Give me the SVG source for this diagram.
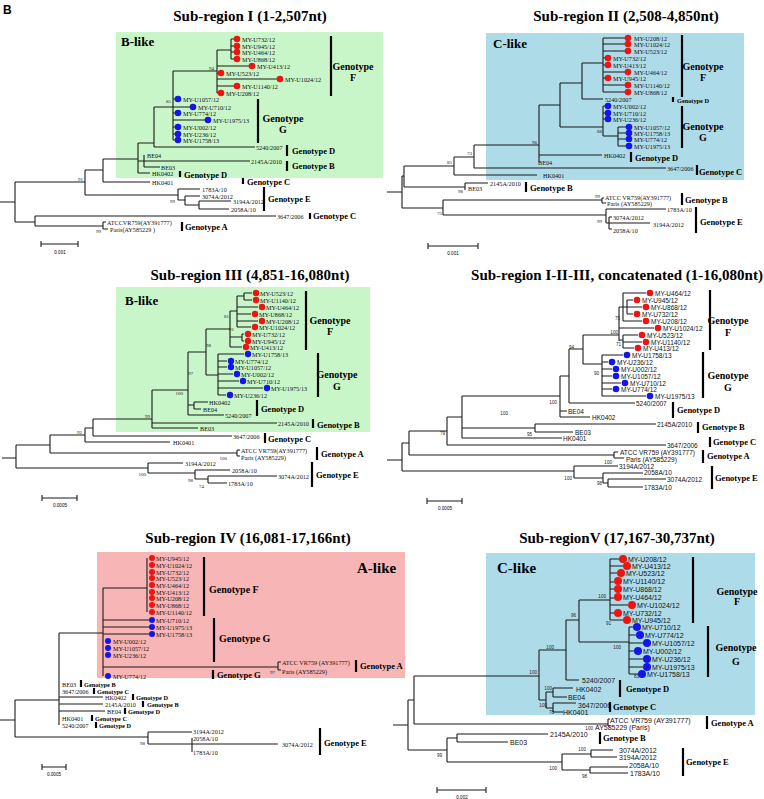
<svg xmlns="http://www.w3.org/2000/svg" width="764" height="799" viewBox="0 0 764 799">
<style>
.ln{fill:none;stroke:#1a1a1a;stroke-width:1.1}
.bar{stroke:#000;stroke-width:2.2}
.s{font-family:"Liberation Serif",serif;font-size:6.2px;dominant-baseline:central;fill:#111}
.a{font-family:"Liberation Sans",sans-serif;font-size:6.5px;dominant-baseline:central;fill:#111}
.a7{font-family:"Liberation Sans",sans-serif;font-size:7px;dominant-baseline:central;fill:#111}
.g{font-family:"Liberation Serif",serif;font-weight:bold;font-size:8.5px;dominant-baseline:central}
.gs{font-family:"Liberation Serif",serif;font-weight:bold;font-size:6.3px;dominant-baseline:central}
.gc{font-family:"Liberation Serif",serif;font-weight:bold;font-size:10px;dominant-baseline:central;text-anchor:middle}
.gl{font-family:"Liberation Serif",serif;font-weight:bold;font-size:10px;dominant-baseline:central}
.n{font-family:"Liberation Serif",serif;font-size:5px;text-anchor:end;dominant-baseline:central;fill:#222}
.na{font-family:"Liberation Sans",sans-serif;font-size:4.6px;text-anchor:end;dominant-baseline:central;fill:#222}
.ti{font-family:"Liberation Serif",serif;font-weight:bold;font-size:15px;text-anchor:middle}
.bl{font-family:"Liberation Serif",serif;font-weight:bold;font-size:13px}
.bl2{font-family:"Liberation Serif",serif;font-weight:bold;font-size:15px}
.sc{font-family:"Liberation Sans",sans-serif;font-size:4.6px;text-anchor:middle;dominant-baseline:central}
.red{fill:#ee1414}
.blu{fill:#1414ee}
</style>
<rect width="764" height="799" fill="#fff"/>
<text x="3" y="14" font-family="Liberation Sans, sans-serif" font-weight="bold" font-size="12">B</text>

<!-- backgrounds -->
<rect x="116" y="32" width="267" height="146" fill="#c8f6c8"/>
<rect x="486" y="33" width="258" height="147" fill="#aedbe8"/>
<rect x="116" y="287" width="254" height="145" fill="#c8f6c8"/>
<rect x="97" y="552" width="308" height="126" fill="#f8b5b5"/>
<rect x="486" y="553" width="269" height="162" fill="#aedbe8"/>

<!-- titles -->
<text class="ti" x="250" y="21">Sub-region I (1-2,507nt)</text>
<text class="ti" x="626" y="21">Sub-region II (2,508-4,850nt)</text>
<text class="ti" x="250" y="280">Sub-region III (4,851-16,080nt)</text>
<text class="ti" x="617" y="280">Sub-region I-II-III, concatenated (1-16,080nt)</text>
<text class="ti" x="248" y="543">Sub-region IV (16,081-17,166nt)</text>
<text class="ti" x="617" y="543">Sub-regionV (17,167-30,737nt)</text>
<text class="bl" x="121" y="46">B-like</text>
<text class="bl" x="493" y="48">C-like</text>
<text class="bl" x="125" y="305">B-like</text>
<text class="bl2" x="357" y="573">A-like</text>
<text class="bl2" x="497" y="573">C-like</text>

<!-- connectors -->
<g id="connectors">
<path class="ln" d="M231,39V59M231,39H234M231,46H234M231,52H234M231,59H234M217,50H231M217,50V93M217,66H249M217,73H218M217,79H277M217,86H234M217,93H218M173,71H217M173,71V140M173,99H175M173,107H190M173,113H175M173,120H205M173,127H175M173,134H175M173,140H175M154,107H173M154,107V147M154,147H255M138,143H154M138,143V173M138,161H144M144,155V167M144,161H250M144,167H160M138,173H150M103,159H138M103,159V182M103,182H150M85,170H103M85,170V195M85,195H178M178,189V200M178,189H200M178,200H185M185,196V205M185,196H200M185,205H199M199,201V209M199,201H231M199,209H229M0,202H15M15,182V222M15,182H85M15,222H35M35,216V226M35,216H276M35,226H103M103,222V229M103,222H106M103,229H108"/>
<path class="ln" d="M603,38V92M603,38H625M603,44H625M603,51H625M603,58H605M603,65H605M603,72H625M603,78H605M603,85H625M603,92H625M582,63H603M582,63V99M582,99H603M560,83H582M560,83V127M560,127H603M603,106V136M603,106H605M603,113H605M603,119H605M603,136H618M618,127V146M618,127H626M618,133H626M618,139H626M618,146H626M539,105H560M539,105V162M539,155H602M474,145H539M474,145V168M474,168H666M454,157H474M454,157V175M454,175H537M404,166H454M404,166V187M404,187H465M465,183V190M465,183H488M443,200V215M443,200H602M443,215H606M602,198V203M602,198H604M602,203H606M606,209V223M606,209H666M606,223H609M609,217V229M609,217H612M609,223H650M609,229H612M387,192H402M402,176V208M402,176H404M402,208H443"/>
<path class="ln" d="M244,293V300M244,293H252M244,300H252M237,296H244M237,296V327M237,307H258M237,314H251M237,321H258M237,327H251M230,311H237M230,311V347M230,337H242M242,334V341M242,334H244M242,341H244M230,347H242M206,329H230M206,329V375M206,375H218M218,354V395M218,354H244M218,361H227M218,367H227M218,374H233M218,381H239M218,388H263M218,395H226M188,352H206M188,352V415M188,405H194M194,402V409M194,402H208M194,409H201M188,415H224M152,390H188M152,390V428M152,423H277M152,428H198M93,419H152M93,419V436M93,436H232M85,428H93M85,428V442M85,442H170M50,435H85M50,435V453M50,453H237M237,450V456M237,450H240M237,456H240M2,458H16M16,445V468M16,445H50M16,468H148M148,463V473M148,463H183M148,473H195M195,470V479M195,470H230M195,479H208M208,476V483M208,476H277M208,483H227"/>
<path class="ln" d="M627,300V314M627,300H633M627,307H642M627,314H633M623,293V321M623,293H646M623,307H627M623,321H642M619,307V341M619,307H623M619,328H654M619,340H623M623,335V348M623,335H638M623,342H642M623,348H634M583,335H619M583,335V364M583,364H602M602,355V396M602,355H623M602,362H608M602,369H612M602,376H612M602,383H621M602,389H612M602,396H646M569,349H583M569,349V403M569,403H635M560,376H569M560,376V417M560,411H567M560,417H590M535,424V432M535,424H656M535,432H573M462,396H560M462,396V438M462,428H535M462,438H562M447,417H462M447,417V445M447,445H666M409,431H447M409,431V455M409,455H614M614,452V458M614,452H618M614,458H624M387,460H402M402,443V471M402,443H409M402,471H574M574,466V478M574,466H618M574,478H603M603,473V483M603,473H643M603,483H608M608,479V487M608,479H666M608,487H643"/>
<path class="ln" d="M147,558V612M103,588H147M103,588V676M103,620H149M103,627H149M103,634H149M103,667H278M278,662V670M278,662H281M278,670H281M59,633H103M59,633V725M59,697H103M59,704H103M59,711H105M0,720H15M15,700V737M15,700H59M15,737H148M148,732V744M148,732H192M148,744H192M192,738V752M192,744H278"/>
<path class="ln" d="M610,559V620M610,559H620M610,566H623M610,573H617M610,582H614M610,589H614M610,598H614M610,605H628M610,613H614M610,620H623M579,600H610M579,600V642M579,642H629M629,627V674M629,627H633M629,635H636M629,643H643M629,651H634M629,659H643M629,667H643M629,674H638M566,620H579M566,620V680M566,680H579M539,650H566M539,650V700M539,700H546M546,692V708M546,692H553M553,688V697M553,688H573M553,697H567M546,708H553M553,703V712M553,703H576M553,712H563M414,676H539M414,676V724M414,724H608M608,719V726M608,719H610M608,726H610M393,725H408M408,700V750M408,700H414M408,750H447M447,738V762M447,738H457M457,734V742M457,734H548M457,742H508M447,762H562M562,754V770M562,754H591M591,750V757M591,750H613M591,757H617M562,770H590M590,767V773M590,767H628M590,773H628"/>
<!-- scale bars -->
<path class="ln" d="M41,244H78M41,241V247M78,241V247M428,246H478M428,243V249M478,243V249M42,498H77M42,495V501M77,495V501M427,501H462M427,498V504M462,498V504M42,767H66M42,764V770M66,764V770M437,790H486M437,787V793M486,787V793"/>
<!-- genotype bars -->
<path class="bar" d="M331,36V96M258,99V143M287,145V156M287,161V171M180,171V177M243,178V184M264,187V211M310,213V219M182,222V231"/>
<path class="bar" d="M682,35V97M673,97V102M682,106V148M631,152V162M697,165V175M526,182V192M682,193V205M696,207V233"/>
<path class="bar" d="M306,291V350M318,353V397M257,400V416M313,419V428M265,433V443M317,447V460M312,462V487"/>
<path class="bar" d="M710,290V350M703,352V398M673,402V418M698,422V433M710,437V447M703,450V463M712,466V489"/>
<path class="bar" d="M204,557V616M214,618V662M213,670V679M356,660V672M81,680V687M94,688V694M133,694V700M143,701V707M125,708V714M92,715V721M96,722V728M320,728V755"/>
<path class="bar" d="M693,557V623M708,626V677M620,680V697M610,702V712M707,716V729M600,732V744M683,748V776"/>
</g>

<!-- Panel 1 -->
<g id="p1">
<g id="p1-U732"><circle class="red" cx="237" cy="39" r="3.3"/><text class="s" x="242" y="39">MY-U732/12</text></g>
<g id="p1-U945"><circle class="red" cx="237" cy="46" r="3.3"/><text class="s" x="242" y="46">MY-U945/12</text></g>
<g id="p1-U464"><circle class="red" cx="237" cy="52" r="3.3"/><text class="s" x="242" y="52">MY-U464/12</text></g>
<g id="p1-U868"><circle class="red" cx="237" cy="59" r="3.3"/><text class="s" x="242" y="59">MY-U868/12</text></g>
<g id="p1-U413"><circle class="red" cx="252" cy="66" r="3.3"/><text class="s" x="257" y="66">MY-U413/12</text></g>
<g id="p1-U523"><circle class="red" cx="221" cy="73" r="3.3"/><text class="s" x="226" y="73">MY-U523/12</text></g>
<g id="p1-U1024"><circle class="red" cx="280" cy="79" r="3.3"/><text class="s" x="285" y="79">MY-U1024/12</text></g>
<g id="p1-U1140"><circle class="red" cx="237" cy="86" r="3.3"/><text class="s" x="242" y="86">MY-U1140/12</text></g>
<g id="p1-U208"><circle class="red" cx="221" cy="93" r="3.3"/><text class="s" x="226" y="93">MY-U208/12</text></g>
<g id="p1-U1057"><circle class="blu" cx="178" cy="99" r="3.3"/><text class="s" x="183" y="99">MY-U1057/12</text></g>
<g id="p1-U710"><circle class="blu" cx="193" cy="107" r="3.3"/><text class="s" x="198" y="107">MY-U710/12</text></g>
<g id="p1-U774"><circle class="blu" cx="178" cy="113" r="3.3"/><text class="s" x="183" y="113">MY-U774/12</text></g>
<g id="p1-U1975"><circle class="blu" cx="208" cy="120" r="3.3"/><text class="s" x="213" y="120">MY-U1975/13</text></g>
<g id="p1-U002"><circle class="blu" cx="178" cy="127" r="3.3"/><text class="s" x="183" y="127">MY-U002/12</text></g>
<g id="p1-U236"><circle class="blu" cx="178" cy="134" r="3.3"/><text class="s" x="183" y="134">MY-U236/12</text></g>
<g id="p1-U1758"><circle class="blu" cx="178" cy="140" r="3.3"/><text class="s" x="183" y="140">MY-U1758/13</text></g>
<g id="p1-5240"><text class="s" x="256" y="147">5240/2007</text></g>
<g id="p1-BE04"><text class="s" x="147" y="155">BE04</text></g>
<g id="p1-2145A"><text class="s" x="251" y="161">2145A/2010</text></g>
<g id="p1-BE03"><text class="s" x="161" y="167">BE03</text></g>
<g id="p1-HK0402"><text class="s" x="152" y="173.5">HK0402</text></g>
<g id="p1-HK0401"><text class="s" x="152" y="182">HK0401</text></g>
<g id="p1-1783A"><text class="s" x="202" y="189">1783A/10</text></g>
<g id="p1-3074A"><text class="s" x="202" y="196">3074A/2012</text></g>
<g id="p1-3194A"><text class="s" x="233" y="201">3194A/2012</text></g>
<g id="p1-2058A"><text class="s" x="231" y="209">2058A/10</text></g>
<g id="p1-3647"><text class="s" x="277" y="216">3647/2006</text></g>
<g id="p1-ATCC"><text class="s" x="107" y="222">ATCCVR759(AY391777)</text></g>
<g id="p1-Paris"><text class="s" x="110" y="229">Paris(AY585229 )</text></g>
<text class="gc" x="353" y="66">Genotype</text><text class="gc" x="353" y="77">F</text>
<text class="gc" x="283" y="118">Genotype</text><text class="gc" x="283" y="129">G</text>
<text class="g" x="292" y="151">Genotype D</text>
<text class="g" x="292" y="166">Genotype B</text>
<text class="g" x="184" y="175">Genotype D</text>
<text class="g" x="247" y="182">Genotype C</text>
<text class="g" x="268" y="199">Genotype E</text>
<text class="g" x="313" y="216">Genotype C</text>
<text class="g" x="185" y="227">Genotype A</text>
<text class="n" x="214" y="68">94</text>
<text class="n" x="171" y="101">85</text>
<text class="n" x="83" y="179">91</text>
<text class="n" x="175" y="201">99</text>
<text class="n" x="101" y="231">99</text>
<text class="sc" x="60" y="252">0.001</text>
</g>

<!-- Panel 2 -->
<g id="p2">
<g id="p2-U208"><circle class="red" cx="628" cy="38" r="3.3"/><text class="s" x="634" y="38">MY-U208/12</text></g>
<g id="p2-U1024"><circle class="red" cx="628" cy="44" r="3.3"/><text class="s" x="634" y="44">MY-U1024/12</text></g>
<g id="p2-U523"><circle class="red" cx="628" cy="51" r="3.3"/><text class="s" x="634" y="51">MY-U523/12</text></g>
<g id="p2-U732"><circle class="red" cx="608" cy="58" r="3.3"/><text class="s" x="613" y="58">MY-U732/12</text></g>
<g id="p2-U413"><circle class="red" cx="608" cy="65" r="3.3"/><text class="s" x="613" y="65">MY-U413/12</text></g>
<g id="p2-U464"><circle class="red" cx="628" cy="72" r="3.3"/><text class="s" x="634" y="72">MY-U464/12</text></g>
<g id="p2-U945"><circle class="red" cx="608" cy="78" r="3.3"/><text class="s" x="613" y="78">MY-U945/12</text></g>
<g id="p2-U1140"><circle class="red" cx="628" cy="85" r="3.3"/><text class="s" x="634" y="85">MY-U1140/12</text></g>
<g id="p2-U868"><circle class="red" cx="628" cy="92" r="3.3"/><text class="s" x="634" y="92">MY-U868/12</text></g>
<g id="p2-5240"><text class="s" x="605" y="99">5240/2007</text></g>
<g id="p2-U002"><circle class="blu" cx="608" cy="106" r="3.3"/><text class="s" x="613" y="106">MY-U002/12</text></g>
<g id="p2-U710"><circle class="blu" cx="608" cy="113" r="3.3"/><text class="s" x="613" y="113">MY-U710/12</text></g>
<g id="p2-U236"><circle class="blu" cx="608" cy="119" r="3.3"/><text class="s" x="613" y="119">MY-U236/12</text></g>
<g id="p2-U1057"><circle class="blu" cx="629" cy="127" r="3.3"/><text class="s" x="634" y="127">MY-U1057/12</text></g>
<g id="p2-U1758"><circle class="blu" cx="629" cy="133" r="3.3"/><text class="s" x="634" y="133">MY-U1758/13</text></g>
<g id="p2-U774"><circle class="blu" cx="629" cy="139" r="3.3"/><text class="s" x="634" y="139">MY-U774/12</text></g>
<g id="p2-U1975"><circle class="blu" cx="629" cy="146" r="3.3"/><text class="s" x="634" y="146">MY-U1975/13</text></g>
<g id="p2-HK0402"><text class="s" x="604" y="155">HK0402</text></g>
<g id="p2-BE04"><text class="s" x="538" y="162">BE04</text></g>
<g id="p2-3647"><text class="s" x="667" y="168">3647/2006</text></g>
<g id="p2-HK0401"><text class="s" x="543" y="175">HK0401</text></g>
<g id="p2-2145A"><text class="s" x="490" y="183">2145A/2010</text></g>
<g id="p2-BE03"><text class="s" x="468" y="188.5">BE03</text></g>
<g id="p2-ATCC"><text class="s" x="605" y="197">ATCC VR759(AY391777)</text></g>
<g id="p2-Paris"><text class="s" x="607" y="203">Paris (AY585229)</text></g>
<g id="p2-1783A"><text class="s" x="667" y="209">1783A/10</text></g>
<g id="p2-3074A"><text class="s" x="613" y="217">3074A/2012</text></g>
<g id="p2-3194A"><text class="s" x="653" y="224">3194A/2012</text></g>
<g id="p2-2058A"><text class="s" x="613" y="230">2058A/10</text></g>
<text class="gc" x="703" y="66">Genotype</text><text class="gc" x="703" y="77">F</text>
<text class="gs" x="677" y="100">Genotype D</text>
<text class="gc" x="703" y="126">Genotype</text><text class="gc" x="703" y="137">G</text>
<text class="g" x="635" y="158">Genotype D</text>
<text class="g" x="699" y="172">Genotype C</text>
<text class="g" x="530" y="188">Genotype B</text>
<text class="g" x="685" y="200">Genotype B</text>
<text class="g" x="700" y="222">Genotype E</text>
<text class="n" x="602" y="131">88</text>
<text class="n" x="537" y="142">96</text>
<text class="n" x="472" y="153">73</text>
<text class="n" x="452" y="162">85</text>
<text class="n" x="463" y="191">98</text>
<text class="n" x="600" y="196">99</text>
<text class="n" x="442" y="213">75</text>
<text class="n" x="602" y="221">99</text>
<text class="sc" x="453" y="253">0.001</text>
</g>

<!-- Panel 3 -->
<g id="p3">
<g id="p3-U523"><circle class="red" cx="256" cy="293" r="3.2"/><text class="s" x="260" y="293">MY-U523/12</text></g>
<g id="p3-U1140"><circle class="red" cx="256" cy="300" r="3.2"/><text class="s" x="260" y="300">MY-U1140/12</text></g>
<g id="p3-U464"><circle class="red" cx="262" cy="307" r="3.2"/><text class="s" x="266" y="307">MY-U464/12</text></g>
<g id="p3-U868"><circle class="red" cx="255" cy="314" r="3.2"/><text class="s" x="259" y="314">MY-U868/12</text></g>
<g id="p3-U208"><circle class="red" cx="262" cy="321" r="3.2"/><text class="s" x="266" y="321">MY-U208/12</text></g>
<g id="p3-U1024"><circle class="red" cx="255" cy="327" r="3.2"/><text class="s" x="259" y="327">MY-U1024/12</text></g>
<g id="p3-U732"><circle class="red" cx="248" cy="334" r="3.2"/><text class="s" x="252" y="334">MY-U732/12</text></g>
<g id="p3-U945"><circle class="red" cx="248" cy="341" r="3.2"/><text class="s" x="252" y="341">MY-U945/12</text></g>
<g id="p3-U413"><circle class="red" cx="246" cy="347" r="3.2"/><text class="s" x="250" y="347">MY-U413/12</text></g>
<g id="p3-U1758"><circle class="blu" cx="248" cy="354" r="3.2"/><text class="s" x="252" y="354">MY-U1758/13</text></g>
<g id="p3-U774"><circle class="blu" cx="231" cy="361" r="3.2"/><text class="s" x="235" y="361">MY-U774/12</text></g>
<g id="p3-U1057"><circle class="blu" cx="231" cy="367" r="3.2"/><text class="s" x="235" y="367">MY-U1057/12</text></g>
<g id="p3-U002"><circle class="blu" cx="237" cy="374" r="3.2"/><text class="s" x="241" y="374">MY-U002/12</text></g>
<g id="p3-U710"><circle class="blu" cx="243" cy="381" r="3.2"/><text class="s" x="247" y="381">MY-U710/12</text></g>
<g id="p3-U1975"><circle class="blu" cx="267" cy="388" r="3.2"/><text class="s" x="271" y="388">MY-U1975/13</text></g>
<g id="p3-U236"><circle class="blu" cx="230" cy="395" r="3.2"/><text class="s" x="234" y="395">MY-U236/12</text></g>
<g id="p3-HK0402"><text class="s" x="209" y="402">HK0402</text></g>
<g id="p3-BE04"><text class="s" x="203" y="409">BE04</text></g>
<g id="p3-5240"><text class="s" x="225" y="415">5240/2007</text></g>
<g id="p3-2145A"><text class="s" x="278" y="423">2145A/2010</text></g>
<g id="p3-BE03"><text class="s" x="200" y="428">BE03</text></g>
<g id="p3-3647"><text class="s" x="233" y="436">3647/2006</text></g>
<g id="p3-HK0401"><text class="s" x="173" y="442">HK0401</text></g>
<g id="p3-ATCC"><text class="s" x="241" y="450">ATCC VR759(AY391777)</text></g>
<g id="p3-Paris"><text class="s" x="241" y="457">Paris (AY585229)</text></g>
<g id="p3-3194A"><text class="s" x="185" y="463">3194A/2012</text></g>
<g id="p3-2058A"><text class="s" x="232" y="470">2058A/10</text></g>
<g id="p3-3074A"><text class="s" x="278" y="476">3074A/2012</text></g>
<g id="p3-1783A"><text class="s" x="228" y="483">1783A/10</text></g>
<text class="gc" x="330" y="320">Genotype</text><text class="gc" x="330" y="331">F</text>
<text class="gc" x="337" y="374">Genotype</text><text class="gc" x="337" y="386">G</text>
<text class="g" x="261" y="409">Genotype D</text>
<text class="g" x="317" y="425">Genotype B</text>
<text class="g" x="268" y="439">Genotype C</text>
<text class="g" x="321" y="454">Genotype A</text>
<text class="g" x="316" y="475">Genotype E</text>
<text class="n" x="229" y="316">81</text>
<text class="n" x="234" y="329">91</text>
<text class="n" x="211" y="345">98</text>
<text class="n" x="193" y="373">97</text>
<text class="n" x="183" y="393">100</text>
<text class="n" x="150" y="416">99</text>
<text class="n" x="82" y="432">92</text>
<text class="n" x="227" y="458">100</text>
<text class="n" x="146" y="474">100</text>
<text class="n" x="193" y="480">98</text>
<text class="n" x="204" y="486">74</text>
<text class="sc" x="60" y="505">0.0005</text>
</g>

<!-- Panel 4 -->
<g id="p4">
<g id="p4-U464"><circle class="red" cx="650" cy="293" r="3.3"/><text class="a" x="655" y="293">MY-U464/12</text></g>
<g id="p4-U945"><circle class="red" cx="637" cy="300" r="3.3"/><text class="a" x="642" y="300">MY-U945/12</text></g>
<g id="p4-U868"><circle class="red" cx="646" cy="307" r="3.3"/><text class="a" x="651" y="307">MY-U868/12</text></g>
<g id="p4-U732"><circle class="red" cx="637" cy="314" r="3.3"/><text class="a" x="642" y="314">MY-U732/12</text></g>
<g id="p4-U208"><circle class="red" cx="646" cy="321" r="3.3"/><text class="a" x="651" y="321">MY-U208/12</text></g>
<g id="p4-U1024"><circle class="red" cx="658" cy="328" r="3.3"/><text class="a" x="663" y="328">MY-U1024/12</text></g>
<g id="p4-U523"><circle class="red" cx="642" cy="335" r="3.3"/><text class="a" x="647" y="335">MY-U523/12</text></g>
<g id="p4-U1140"><circle class="red" cx="646" cy="342" r="3.3"/><text class="a" x="651" y="342">MY-U1140/12</text></g>
<g id="p4-U413"><circle class="red" cx="638" cy="348" r="3.3"/><text class="a" x="643" y="348">MY-U413/12</text></g>
<g id="p4-U1758"><circle class="blu" cx="627" cy="355" r="3.3"/><text class="a" x="632" y="355">MY-U1758/13</text></g>
<g id="p4-U236"><circle class="blu" cx="612" cy="362" r="3.3"/><text class="a" x="617" y="362">MY-U236/12</text></g>
<g id="p4-U002"><circle class="blu" cx="616" cy="369" r="3.3"/><text class="a" x="621" y="369">MY-U002/12</text></g>
<g id="p4-U1057"><circle class="blu" cx="616" cy="376" r="3.3"/><text class="a" x="621" y="376">MY-U1057/12</text></g>
<g id="p4-U710"><circle class="blu" cx="625" cy="383" r="3.3"/><text class="a" x="630" y="383">MY-U710/12</text></g>
<g id="p4-U774"><circle class="blu" cx="616" cy="389" r="3.3"/><text class="a" x="621" y="389">MY-U774/12</text></g>
<g id="p4-U1975"><circle class="blu" cx="650" cy="396" r="3.3"/><text class="a" x="655" y="396">MY-U1975/13</text></g>
<g id="p4-5240"><text class="a" x="636" y="403">5240/2007</text></g>
<g id="p4-BE04"><text class="a" x="568" y="411">BE04</text></g>
<g id="p4-HK0402"><text class="a" x="592" y="417">HK0402</text></g>
<g id="p4-2145A"><text class="a" x="657" y="424">2145A/2010</text></g>
<g id="p4-BE03"><text class="a" x="575" y="432">BE03</text></g>
<g id="p4-HK0401"><text class="a" x="563" y="438">HK0401</text></g>
<g id="p4-3647"><text class="a" x="667" y="445">3647/2006</text></g>
<g id="p4-ATCC"><text class="a" x="620" y="452">ATCC VR759 (AY391777)</text></g>
<g id="p4-Paris"><text class="a" x="626" y="459">Paris (AY585229)</text></g>
<g id="p4-3194A"><text class="a" x="619" y="466">3194A/2012</text></g>
<g id="p4-2058A"><text class="a" x="644" y="472">2058A/10</text></g>
<g id="p4-3074A"><text class="a" x="667" y="479">3074A/2012</text></g>
<g id="p4-1783A"><text class="a" x="644" y="487">1783A/10</text></g>
<text class="gc" x="728" y="320">Genotype</text><text class="gc" x="728" y="332">F</text>
<text class="gc" x="728" y="375">Genotype</text><text class="gc" x="728" y="387">G</text>
<text class="g" x="677" y="410">Genotype D</text>
<text class="g" x="702" y="427">Genotype B</text>
<text class="g" x="713" y="442">Genotype C</text>
<text class="g" x="707" y="456">Genotype A</text>
<text class="g" x="715" y="478">Genotype E</text>
<text class="na" x="620" y="318">75</text>
<text class="na" x="618" y="332">100</text>
<text class="na" x="621" y="344">71</text>
<text class="na" x="574" y="347">94</text>
<text class="na" x="599" y="373">90</text>
<text class="na" x="557" y="402">100</text>
<text class="na" x="508" y="413">100</text>
<text class="na" x="532" y="434">95</text>
<text class="na" x="445" y="433">79</text>
<text class="na" x="612" y="462">100</text>
<text class="na" x="572" y="478">100</text>
<text class="na" x="602" y="483">98</text>
<text class="sc" x="445" y="508">0.0005</text>
</g>

<!-- Panel 5 -->
<g id="p5">
<g id="p5-U945"><circle class="red" cx="152" cy="558" r="3"/><text class="s" x="156" y="558">MY-U945/12</text></g>
<g id="p5-U1024"><circle class="red" cx="152" cy="565" r="3"/><text class="s" x="156" y="565">MY-U1024/12</text></g>
<g id="p5-U732"><circle class="red" cx="152" cy="572" r="3"/><text class="s" x="156" y="572">MY-U732/12</text></g>
<g id="p5-U523"><circle class="red" cx="152" cy="578" r="3"/><text class="s" x="156" y="578">MY-U523/12</text></g>
<g id="p5-U464"><circle class="red" cx="152" cy="585" r="3"/><text class="s" x="156" y="585">MY-U464/12</text></g>
<g id="p5-U413"><circle class="red" cx="152" cy="592" r="3"/><text class="s" x="156" y="592">MY-U413/12</text></g>
<g id="p5-U208"><circle class="red" cx="152" cy="598" r="3"/><text class="s" x="156" y="598">MY-U208/12</text></g>
<g id="p5-U868"><circle class="red" cx="152" cy="605" r="3"/><text class="s" x="156" y="605">MY-U868/12</text></g>
<g id="p5-U1140"><circle class="red" cx="152" cy="612" r="3"/><text class="s" x="156" y="612">MY-U1140/12</text></g>
<g id="p5-U710"><circle class="blu" cx="152" cy="620" r="3"/><text class="s" x="156" y="620">MY-U710/12</text></g>
<g id="p5-U1975"><circle class="blu" cx="152" cy="627" r="3"/><text class="s" x="156" y="627">MY-U1975/13</text></g>
<g id="p5-U1758"><circle class="blu" cx="152" cy="634" r="3"/><text class="s" x="156" y="634">MY-U1758/13</text></g>
<g id="p5-U002"><circle class="blu" cx="108" cy="641" r="3"/><text class="s" x="113" y="641">MY-U002/12</text></g>
<g id="p5-U1057"><circle class="blu" cx="108" cy="648" r="3"/><text class="s" x="113" y="648">MY-U1057/12</text></g>
<g id="p5-U236"><circle class="blu" cx="108" cy="655" r="3"/><text class="s" x="113" y="655">MY-U236/12</text></g>
<g id="p5-U774"><circle class="blu" cx="108" cy="676" r="3"/><text class="s" x="113" y="676">MY-U774/12</text></g>
<g id="p5-ATCC"><text class="s" x="282" y="662">ATCC VR759 (AY391777)</text></g>
<g id="p5-Paris"><text class="s" x="282" y="671">Paris (AY585229)</text></g>
<g id="p5-BE03"><text class="s" x="62" y="684">BE03</text></g>
<g id="p5-3647"><text class="s" x="62" y="691">3647/2006</text></g>
<g id="p5-HK0402"><text class="s" x="105" y="697">HK0402</text></g>
<g id="p5-2145A"><text class="s" x="105" y="704">2145A/2010</text></g>
<g id="p5-BE04"><text class="s" x="107" y="711">BE04</text></g>
<g id="p5-HK0401"><text class="s" x="62" y="718">HK0401</text></g>
<g id="p5-5240"><text class="s" x="62" y="725">5240/2007</text></g>
<g id="p5-3194A"><text class="s" x="193" y="731">3194A/2012</text></g>
<g id="p5-2058A"><text class="s" x="193" y="738">2058A/10</text></g>
<g id="p5-3074A"><text class="s" x="282" y="744">3074A/2012</text></g>
<g id="p5-1783A"><text class="s" x="193" y="752">1783A/10</text></g>
<text class="gl" x="209" y="589">Genotype F</text>
<text class="gl" x="219" y="638">Genotype G</text>
<text class="g" x="217" y="675">Genotype G</text>
<text class="g" x="360" y="666" font-size="9.5">Genotype A</text>
<text class="gs" x="84" y="684">Genotype B</text>
<text class="gs" x="97" y="691">Genotype C</text>
<text class="gs" x="136" y="697">Genotype D</text>
<text class="gs" x="147" y="704">Genotype B</text>
<text class="gs" x="128" y="711">Genotype D</text>
<text class="gs" x="95" y="718">Genotype C</text>
<text class="gs" x="99" y="725">Genotype D</text>
<text class="g" x="324" y="743">Genotype E</text>
<text class="n" x="275" y="672">97</text>
<text class="n" x="145" y="743">98</text>
<text class="sc" x="54" y="774">0.0005</text>
</g>

<!-- Panel 6 -->
<g id="p6">
<g id="p6-U208"><circle class="red" cx="623" cy="559" r="4"/><text class="a7" x="628" y="559">MY-U208/12</text></g>
<g id="p6-U413"><circle class="red" cx="627" cy="566" r="4"/><text class="a7" x="632" y="566">MY-U413/12</text></g>
<g id="p6-U523"><circle class="red" cx="621" cy="573" r="4"/><text class="a7" x="626" y="573">MY-U523/12</text></g>
<g id="p6-U1140"><circle class="red" cx="618" cy="581" r="4"/><text class="a7" x="623" y="581">MY-U1140/12</text></g>
<g id="p6-U868"><circle class="red" cx="618" cy="589" r="4"/><text class="a7" x="623" y="589">MY-U868/12</text></g>
<g id="p6-U464"><circle class="red" cx="618" cy="597" r="4"/><text class="a7" x="623" y="597">MY-U464/12</text></g>
<g id="p6-U1024"><circle class="red" cx="632" cy="605" r="4"/><text class="a7" x="637" y="605">MY-U1024/12</text></g>
<g id="p6-U732"><circle class="red" cx="618" cy="613" r="4"/><text class="a7" x="623" y="613">MY-U732/12</text></g>
<g id="p6-U945"><circle class="red" cx="627" cy="620" r="4"/><text class="a7" x="632" y="620">MY-U945/12</text></g>
<g id="p6-U710"><circle class="blu" cx="637" cy="627" r="4"/><text class="a7" x="642" y="627">MY-U710/12</text></g>
<g id="p6-U774"><circle class="blu" cx="640" cy="635" r="4"/><text class="a7" x="645" y="635">MY-U774/12</text></g>
<g id="p6-U1057"><circle class="blu" cx="647" cy="643" r="4"/><text class="a7" x="652" y="643">MY-U1057/12</text></g>
<g id="p6-U002"><circle class="blu" cx="638" cy="651" r="4"/><text class="a7" x="643" y="651">MY-U002/12</text></g>
<g id="p6-U236"><circle class="blu" cx="647" cy="659" r="4"/><text class="a7" x="652" y="659">MY-U236/12</text></g>
<g id="p6-U1975"><circle class="blu" cx="647" cy="667" r="4"/><text class="a7" x="652" y="667">MY-U1975/13</text></g>
<g id="p6-U1758"><circle class="blu" cx="642" cy="674" r="4"/><text class="a7" x="647" y="674">MY-U1758/13</text></g>
<g id="p6-5240"><text class="a7" x="582" y="680">5240/2007</text></g>
<g id="p6-HK0402"><text class="a7" x="576" y="689">HK0402</text></g>
<g id="p6-BE04"><text class="a7" x="568" y="697">BE04</text></g>
<g id="p6-3647"><text class="a7" x="578" y="705">3647/2006</text></g>
<g id="p6-HK0401"><text class="a7" x="563" y="712">HK0401</text></g>
<g id="p6-ATCC"><text class="a7" x="610" y="720">ATCC VR759 (AY391777)</text></g>
<g id="p6-Paris"><text class="a7" x="595" y="727">AY585229 (Paris)</text></g>
<g id="p6-2145A"><text class="a7" x="550" y="734">2145A/2010</text></g>
<g id="p6-BE03"><text class="a7" x="510" y="742">BE03</text></g>
<g id="p6-3074A"><text class="a7" x="619" y="750">3074A/2012</text></g>
<g id="p6-3194A"><text class="a7" x="619" y="757">3194A/2012</text></g>
<g id="p6-2058A"><text class="a7" x="629" y="765">2058A/10</text></g>
<g id="p6-1783A"><text class="a7" x="630" y="773">1783A/10</text></g>
<text class="gc" x="737" y="591">Genotype</text><text class="gc" x="737" y="601">F</text>
<text class="gc" x="736" y="647">Genotype</text><text class="gc" x="736" y="661">G</text>
<text class="g" x="626" y="689">Genotype D</text>
<text class="g" x="613" y="707">Genotype C</text>
<text class="g" x="711" y="723">Genotype A</text>
<text class="g" x="603" y="738" font-size="7.5">Genotype B</text>
<text class="g" x="686" y="762">Genotype E</text>
<text class="na" x="606" y="596">100</text>
<text class="na" x="611" y="623">91</text>
<text class="na" x="576" y="615">96</text>
<text class="na" x="621" y="647">100</text>
<text class="na" x="639" y="676">83</text>
<text class="na" x="554" y="647">100</text>
<text class="na" x="537" y="672">100</text>
<text class="na" x="552" y="688">100</text>
<text class="na" x="547" y="705">100</text>
<text class="na" x="554" y="712">78</text>
<text class="na" x="593" y="728">100</text>
<text class="na" x="442" y="755">99</text>
<text class="na" x="586" y="749">100</text>
<text class="na" x="557" y="768">100</text>
<text class="na" x="587" y="776">98</text>
<text class="sc" x="462" y="797">0.002</text>
</g>
</svg>
